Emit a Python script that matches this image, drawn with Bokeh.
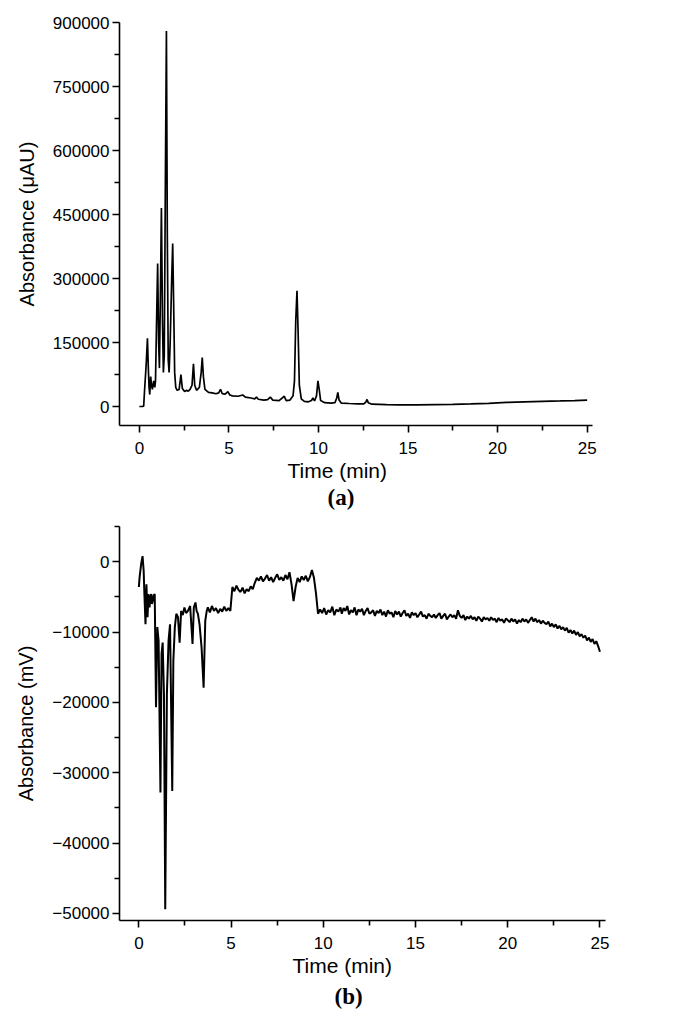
from bokeh.plotting import figure
from bokeh.layouts import column
from bokeh.models import Title, FixedTicker, Range1d, BasicTickFormatter
from bokeh.embed import file_html
from bokeh.resources import INLINE
import numpy as np

# ---------------- data: panel (a) UV chromatogram ----------------
time_a = [0.0, 0.16, 0.24, 0.30, 0.375, 0.45, 0.50, 0.54, 0.58, 0.63, 0.68, 0.725, 0.80, 0.86, 0.90,
          0.96, 1.02, 1.075, 1.12, 1.17, 1.23, 1.29, 1.34, 1.39, 1.455, 1.51, 1.56, 1.61, 1.66, 1.72,
          1.805, 1.86, 1.91, 1.97, 2.03, 2.11, 2.22, 2.32, 2.40, 2.525, 2.63, 2.73, 2.83, 2.94, 3.02, 3.09,
          3.19, 3.35, 3.45, 3.51, 3.575, 3.66, 3.86, 4.07, 4.27, 4.43, 4.53, 4.63, 4.79, 4.94, 5.05, 5.2,
          5.51, 5.77, 5.92, 6.23, 6.44, 6.54, 6.64, 6.95, 7.16, 7.31, 7.45, 7.8,
          8.09, 8.20, 8.41, 8.58, 8.66, 8.73, 8.80,
          8.86, 8.93, 9.04, 9.21, 9.44, 9.61, 9.69, 9.78, 9.89, 9.97, 10.04, 10.12, 10.35, 10.70, 10.92, 11.02,
          11.08, 11.15, 11.27, 11.72, 12.18, 12.53, 12.64, 12.71, 12.78, 12.98, 13.8, 14.5, 15.5,
          16.5, 17.5, 18.5, 19.5, 20.5, 21.5, 22.5, 23.5, 24.3, 25.0]
abs_a = [0, 0, 1000, 45000, 95000, 160000, 90000, 45000, 28000, 70000, 50000, 40000, 60000, 45000, 60000,
         200000, 335000, 150000, 90000, 250000, 465000, 200000, 80000, 120000, 550000, 880000, 400000, 110000, 80000, 150000,
         300000, 382000, 250000, 80000, 45000, 38000, 40000, 75000, 42000, 35000, 38000, 36000, 40000, 50000, 100000, 50000,
         38000, 45000, 80000, 115000, 70000, 40000, 33000, 32000, 30000, 32000, 40000, 30000, 29000, 35000, 27000, 25000,
         24000, 27000, 22000, 20000, 18000, 22000, 17000, 15000, 16000, 22000, 15000, 14000,
         24000, 14000, 15000, 25000, 60000, 200000, 271000,
         180000, 50000, 18000, 12000, 11000, 14000, 20000, 13000, 25000, 60000, 40000, 14000, 9000, 8000, 9000, 20000,
         33000, 15000, 8000, 7000, 6000, 6000, 10000, 16500, 9000, 5500, 4500, 4000, 4000,
         4500, 5000, 6000, 7500, 9500, 11000, 12000, 13000, 14000, 15000]

# ---------------- data: panel (b) second detector ----------------
time_b_early = [0.0, 0.04, 0.126, 0.20, 0.26, 0.30, 0.36, 0.41, 0.47, 0.52, 0.58, 0.62, 0.67, 0.71, 0.76,
                0.80, 0.86, 0.93, 1.00, 1.07, 1.17, 1.23, 1.29, 1.36, 1.43, 1.52, 1.61, 1.69, 1.81, 1.87,
                1.95, 2.03, 2.12, 2.21, 2.29, 2.38, 2.47, 2.56, 2.66, 2.78, 2.91, 2.98, 3.07, 3.13, 3.20,
                3.29, 3.40, 3.51, 3.60, 3.68, 3.74, 3.85, 3.96, 4.07, 4.18, 4.30, 4.41, 4.52, 4.63, 4.74, 4.85, 4.96]
abs_b_early = [-3600, -2200, -300, 800, -1300, -4600, -8900, -3200, -7900, -4600, -6500, -5000, -4600, -6000, -5500,
               -4800, -4600, -20700, -9300, -11200, -32800, -13100, -11500, -18800, -49400, -18800, -11200, -8900, -32600, -14100,
               -9300, -7400, -7900, -11500, -7000, -7600, -6500, -7300, -7000, -6300, -11700, -6500, -5800, -7000, -7400,
               -8900, -12200, -17900, -8400, -7000, -6500, -7200, -6300, -7000, -6600, -7300, -6700, -7100, -6400, -7000, -6600, -7000]
# evenly spaced samples, 5.07 .. 10.93 min
abs_b_mid = [-3600, -4200, -3400, -4000,
             -4300, -3700, -4500, -3900, -4200, -3500, -3900, -3000, -2300, -2700,
             -2100, -2800, -2400, -1900, -2700, -2200, -2900, -2300, -1800, -2600,
             -2200, -2700, -1900, -2500, -1500, -3200, -5600, -3600, -2300, -2900,
             -2100, -2600, -2000, -2800, -2200, -1200, -2300, -4500, -7400, -6800,
             -7300, -6600, -7500, -6900, -7200, -6400, -7600, -6800, -7100, -6500]
time_b_mid = np.linspace(5.07, 10.93, len(abs_b_mid))
# 0.1-min samples, 11.0 .. 25.0 min
abs_b_late = [-7400, -6600, -7000, -6300, -7500, -6900, -7200, -6500, -7600, -6800,
              -7100, -6700, -7600, -7000, -6600, -7400, -7200, -6900, -7700, -7000,
              -7300, -6800, -7600, -7100, -7800, -6900, -7400, -7200, -7900, -7000,
              -7500, -7100, -7800, -7300, -6900, -7700, -7400, -8000, -7200, -7600,
              -7300, -7900, -7500, -7100, -7800, -7600, -8100, -7400, -7700, -7900,
              -7500, -8000, -7600, -7300, -8100, -7700, -7400, -8200, -7800, -7500,
              -7900, -7600, -8100, -6900, -7700, -8000, -7600, -8300, -7800, -8100,
              -7700, -8200, -7900, -8400, -7800, -8100, -8500, -7900, -8200, -8000,
              -8400, -7900, -8300, -8100, -8600, -8000, -8400, -8200, -8700, -8100,
              -8300, -8600, -8100, -8500, -8200, -8800, -8300, -8600, -8100, -8500,
              -8200, -8700, -8300, -7900, -8500, -8100, -8600, -8300, -8800, -8400,
              -8700, -8900, -8500, -9200, -8800, -9300, -8900, -9500, -9100, -9600,
              -9300, -9800, -9400, -10100, -9700, -10200, -9800, -10400, -10000, -10600,
              -10300, -10800, -10500, -11200, -10800, -11400, -11000, -11700, -11300, -12000,
              -12800]
time_b_late = np.round(np.linspace(11.0, 25.0, len(abs_b_late)), 2)
time_b = list(time_b_early) + list(time_b_mid) + list(time_b_late)
abs_b = abs_b_early + abs_b_mid + abs_b_late

# tick values
x_ticks = [0, 5, 10, 15, 20, 25]
x_minor = [2.5, 7.5, 12.5, 17.5, 22.5]
ya_ticks = [0, 150000, 300000, 450000, 600000, 750000, 900000]
ya_minor = [75000, 225000, 375000, 525000, 675000, 825000]
yb_ticks = [-50000, -40000, -30000, -20000, -10000, 0]
yb_minor = [-45000, -35000, -25000, -15000, -5000, 5000]

SANS = "Liberation Sans"


def style(p, xt, xm, yt, ym, ylabel, xlabel_offset, tag, tag_offset, tag_standoff):
    p.xaxis.ticker = FixedTicker(ticks=xt, minor_ticks=xm)
    p.yaxis.ticker = FixedTicker(ticks=yt, minor_ticks=ym)
    p.yaxis.formatter = BasicTickFormatter(use_scientific=False)
    p.yaxis.axis_label = ylabel
    for ax in (p.xaxis, p.yaxis):
        ax.axis_line_width = 1.6
        ax.axis_line_color = "black"
        ax.major_tick_line_width = 1.6
        ax.minor_tick_line_width = 1.6
        ax.major_tick_line_color = "black"
        ax.minor_tick_line_color = "black"
        ax.major_tick_out = 7
        ax.major_tick_in = 0
        ax.minor_tick_out = 5
        ax.minor_tick_in = 0
        ax.major_label_text_font = SANS
        ax.major_label_text_font_size = "17px"
        ax.major_label_text_color = "black"
        ax.axis_label_text_font = SANS
        ax.axis_label_text_font_size = "20px"
        ax.axis_label_text_font_style = "normal"
        ax.axis_label_text_color = "black"
    p.xaxis.major_label_standoff = 9
    p.yaxis.major_label_standoff = 3
    p.yaxis.axis_label_standoff = 12
    p.xgrid.visible = False
    p.ygrid.visible = False
    p.outline_line_color = None
    p.background_fill_color = "white"
    p.border_fill_color = "white"
    p.add_layout(Title(text="Time (min)", align="left", offset=xlabel_offset, standoff=0,
                       text_font=SANS, text_font_size="21px", text_font_style="normal",
                       text_color="black"), "below")
    p.add_layout(Title(text=tag, align="left", offset=tag_offset, standoff=tag_standoff,
                       text_font="Liberation Serif", text_font_size="23px",
                       text_font_style="bold", text_color="black"), "below")


pa = figure(frame_width=473, frame_height=403, min_border_left=119, min_border_right=40,
            min_border_top=22, min_border_bottom=88,
            x_range=Range1d(-1.11, 25.3), y_range=Range1d(-44500, 900000),
            output_backend="svg", toolbar_location=None)
pa.line(time_a, abs_a, line_color="black", line_width=1.7)
style(pa, x_ticks, x_minor, ya_ticks, ya_minor, "Absorbance (\u03bcAU)", 168, "(a)", 208, 2)

pb = figure(frame_width=486, frame_height=394, min_border_left=115, min_border_right=40,
            min_border_top=13, min_border_bottom=98,
            x_range=Range1d(-1.05, 25.3), y_range=Range1d(-51000, 5000),
            output_backend="svg", toolbar_location=None)
pb.line(time_b, abs_b, line_color="black", line_width=2.0)
style(pb, x_ticks, x_minor, yb_ticks, yb_minor, "Absorbance (mV)", 173, "(b)", 215, 10)

layout = column(pa, pb, spacing=0)
open("out.html", "w").write(file_html(layout, INLINE))
